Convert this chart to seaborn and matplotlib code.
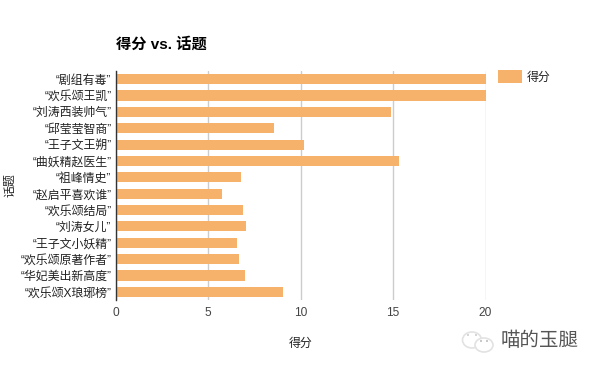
import matplotlib
matplotlib.use("Agg")
import matplotlib.pyplot as plt
import pandas as pd
import seaborn as sns
from matplotlib.patches import Ellipse

topics = ["“剧组有毒”", "“欢乐颂王凯”", "“刘涛西装帅气”", "“邱莹莹智商”", "“王子文王朔”",
          "“曲妖精赵医生”", "“祖峰情史”", "“赵启平喜欢谁”", "“欢乐颂结局”", "“刘涛女儿”",
          "“王子文小妖精”", "“欢乐颂原著作者”", "“华妃美出新高度”", "“欢乐颂X琅琊榜”"]
scores = [20, 20, 14.9, 8.57, 10.2, 15.3, 6.78, 5.76, 6.89, 7.05, 6.57, 6.68, 7.0, 9.05]
xticks = [0, 5, 10, 15, 20]

sns.set_theme(style="white")
plt.rcParams['font.family'] = ['Liberation Sans', 'Noto Sans CJK SC']

df = pd.DataFrame({"话题": topics, "得分": scores})

W, H = 600, 371
fig = plt.figure(figsize=(6, 3.71), dpi=100)
ax = fig.add_axes([115.5/W, 1-300/H, 370/W, 229/H])
sns.barplot(data=df, y="话题", x="得分", color="#f6b26b", saturation=1, width=0.62,
            linewidth=0, label="得分", legend=False, ax=ax, zorder=3)

ax.set_xlim(0, 20)
ax.set_xticks(xticks)
ax.grid(axis="x", color="#cccccc", lw=1)
ax.set_axisbelow(True)
ax.tick_params(axis="both", length=0, labelsize=8.6, labelcolor="#222222")
ax.tick_params(axis="x", pad=5, labelcolor="#444444")
ax.tick_params(axis="y", pad=3)
for s in ["top", "right", "bottom"]:
    ax.spines[s].set_visible(False)
ax.spines["left"].set_color("#333333")
ax.spines["left"].set_linewidth(1)
ax.spines["left"].set_zorder(5)

ax.set_xlabel("")
ax.set_ylabel("")
fig.text(301/W, 1-344/H, "得分", fontsize=8.6, style="italic", color="#222222", ha="center", va="center")
fig.text(10/W, 1-185/H, "话题", fontsize=8.6, style="italic", color="#222222", ha="center", va="center", rotation=90)
fig.text(116/W, 1-44/H, "得分 vs. 话题", fontsize=11, fontweight="bold", color="black", ha="left", va="center")

handles, labels = ax.get_legend_handles_labels()
fig.legend(handles, labels, loc="center left", bbox_to_anchor=(498/W, 1-77/H), frameon=False, fontsize=8.6,
           handlelength=2, handleheight=1.3, handletextpad=0.4, borderaxespad=0, borderpad=0,
           labelcolor="#222222")

# wechat watermark
def px(x, y):
    return (x/W, 1-y/H)

for cx, cy, w, h in [(472, 340, 19, 16), (484, 345, 18, 14)]:
    fig.add_artist(Ellipse(px(cx, cy), w/W, h/H, transform=fig.transFigure, fc="white", ec="#e2e2e2", lw=1.2))
for cx, cy, c in [(468, 335, "#cccccc"), (476, 335, "#cccccc"), (481, 341, "#bbbbbb"), (487, 341, "#bbbbbb")]:
    fig.add_artist(Ellipse(px(cx, cy), 2/W, 2/H, transform=fig.transFigure, fc=c, ec="none"))
fig.text(501/W, 1-341/H, "喵的玉腿", fontsize=14, color="#555555", ha="left", va="center")

fig.savefig("out.png", dpi=100)
